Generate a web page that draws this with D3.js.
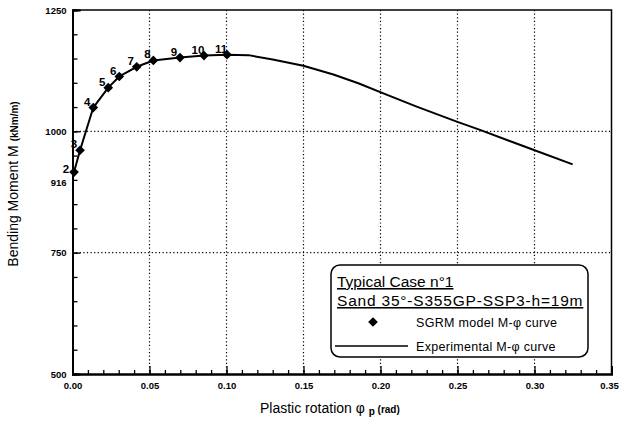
<!DOCTYPE html>
<html>
<head>
<meta charset="utf-8">
<script src="https://cdn.jsdelivr.net/npm/d3@7"></script>
<style>
	body { margin: 0; background: #fff; }
	svg { display: block; font-family: "Liberation Sans", Arial, sans-serif; }
</style>
</head>
<body>
<svg id="chart" width="619" height="425"></svg>
<script>
// SGRM model points (numbered 2..11)
const pointIds = [2, 3, 4, 5, 6, 7, 8, 9, 10, 11]
const pointRot = [0.001, 0.0049, 0.0135, 0.0232, 0.0304, 0.0417, 0.0525, 0.0698, 0.0854, 0.1003]
const pointMom = [916, 961, 1049, 1090, 1113, 1133, 1146, 1152, 1156, 1158]

// experimental curve
const expRot = [0.001, 0.0049, 0.0135, 0.0232, 0.0304, 0.0417, 0.0525, 0.0698, 0.0854, 0.1003, 0.1142, 0.13, 0.1499, 0.1694, 0.1856, 0.2035, 0.2235, 0.2495, 0.2646, 0.2992, 0.3248]
const expMom = [916, 961, 1049, 1090, 1113, 1133, 1146, 1152, 1156, 1158, 1157, 1148, 1135, 1117, 1099, 1076, 1051, 1020, 1003, 962, 932]

const xTicks = [0, 0.05, 0.10, 0.15, 0.20, 0.25, 0.30, 0.35]
const yTicks = [500, 750, 1000, 1250]
const yExtraLabel = 916
const xGrid = [0.05, 0.10, 0.15, 0.20, 0.25, 0.30]
const yGrid = [750, 1000]

const svg = d3.select('#chart')
const pLeft = 72.5, pRight = 611.5, pTop = 10, pBottom = 374

const x = d3.scaleLinear().domain([0, 0.35]).range([pLeft, pRight])
const y = d3.scaleLinear().domain([500, 1250]).range([pBottom, pTop])

// dotted grid
const grid = svg.append('g')
	.attr('stroke', '#000')
	.attr('stroke-width', 1.2)
	.attr('stroke-dasharray', '1.2,2.4')
grid.selectAll('.gx').data(xGrid).enter().append('line')
	.attr('x1', x).attr('x2', x)
	.attr('y1', pTop).attr('y2', pBottom)
grid.selectAll('.gy').data(yGrid).enter().append('line')
	.attr('y1', y).attr('y2', y)
	.attr('x1', pLeft).attr('x2', pRight)

// frame (top / right)
svg.append('path')
	.attr('d', `M${pLeft},${pTop}H${pRight}V${pBottom}`)
	.attr('fill', 'none')
	.attr('stroke', '#000')
	.attr('stroke-width', 1.5)

// x axis, ticks pointing in
const xMinor = d3.axisBottom(x).tickValues(d3.range(0, 0.351, 0.01)).tickSize(-4).tickFormat('')
svg.append('g').attr('transform', `translate(0,${pBottom})`).call(xMinor)
const xAxis = d3.axisBottom(x).tickValues(xTicks).tickSize(-8).tickPadding(8).tickFormat(d3.format('.2f'))
const gx = svg.append('g').attr('transform', `translate(0,${pBottom})`).call(xAxis)

// y axis, ticks pointing in
const yMinor = d3.axisLeft(y).tickValues(d3.range(500, 1251, 50)).tickSize(-5).tickFormat('')
svg.append('g').attr('transform', `translate(${pLeft},0)`).call(yMinor)
const yAxis = d3.axisLeft(y).tickValues(yTicks).tickSize(-8).tickPadding(6).tickFormat(d3.format('d'))
const gy = svg.append('g').attr('transform', `translate(${pLeft},0)`).call(yAxis)

svg.selectAll('.domain').attr('stroke', '#000').attr('stroke-width', 2)
svg.selectAll('.tick line').attr('stroke', '#000').attr('stroke-width', 1.3)
svg.selectAll('.tick text')
	.attr('font-family', '"Liberation Sans", Arial, sans-serif')
	.attr('font-size', 9.5)
	.attr('font-weight', 'bold')
	.attr('fill', '#000')
// keep the last x label inside the picture
gx.selectAll('.tick text').filter((d) => d === 0.35).attr('dx', -2.5)

gy.append('text')
	.attr('x', -6)
	.attr('y', y(yExtraLabel) + 11)
	.attr('dy', '0.32em')
	.attr('text-anchor', 'end')
	.attr('font-size', 9.5)
	.attr('font-weight', 'bold')
	.attr('fill', '#000')
	.text(yExtraLabel)

// experimental curve
const expData = expRot.map((r, i) => [r, expMom[i]])
const line = d3.line().x((d) => x(d[0])).y((d) => y(d[1]))
svg.append('path')
	.datum(expData)
	.attr('d', line)
	.attr('fill', 'none')
	.attr('stroke', '#000')
	.attr('stroke-width', 2)
	.attr('stroke-linejoin', 'round')

// SGRM diamonds + labels
const points = pointIds.map((id, i) => ({ id: id, r: pointRot[i], m: pointMom[i] }))
const diamond = d3.symbol().type(d3.symbolDiamond2).size(60)
svg.selectAll('.pt').data(points).enter().append('path')
	.attr('class', 'pt')
	.attr('d', diamond)
	.attr('transform', (d) => `translate(${x(d.r)},${y(d.m)})`)
	.attr('fill', '#000')

svg.selectAll('.pt-label').data(points).enter().append('text')
	.attr('class', 'pt-label')
	.attr('x', (d) => x(d.r) + (d.id === 2 ? -8 : -6))
	.attr('y', (d) => y(d.m) + (d.id === 2 ? -3 : -6))
	.attr('dy', '0.35em')
	.attr('text-anchor', 'middle')
	.attr('font-size', 11.5)
	.attr('font-weight', 'bold')
	.text((d) => d.id)

// axis titles
const xt = svg.append('text')
	.attr('x', 260)
	.attr('y', 413)
	.attr('font-size', 14)
xt.append('tspan').text('Plastic rotation φ ')
xt.append('tspan').attr('font-size', 10).attr('font-weight', 'bold').attr('dy', 2).text('p')
xt.append('tspan').attr('font-size', 10).attr('font-weight', 'bold').attr('dy', -2).text(' (rad)')

const yt = svg.append('text')
	.attr('transform', 'translate(18,184) rotate(-90)')
	.attr('text-anchor', 'middle')
	.attr('font-size', 14)
yt.append('tspan').text('Bending Moment  M ')
yt.append('tspan').attr('font-size', 10).attr('font-weight', 'bold').text('(kNm/m)')

// legend
const lg = svg.append('g').attr('transform', 'translate(331,265)')
lg.append('rect')
	.attr('width', 257).attr('height', 92).attr('rx', 9)
	.attr('fill', '#fff').attr('stroke', '#000').attr('stroke-width', 1.5)
lg.append('text').attr('x', 6).attr('y', 22).attr('font-size', 15.5)
	.attr('text-decoration', 'underline').text('Typical Case n°1')
lg.append('text').attr('x', 6).attr('y', 41).attr('font-size', 15.5)
	.attr('letter-spacing', 0.8)
	.attr('text-decoration', 'underline').text('Sand 35°-S355GP-SSP3-h=19m')
lg.append('path').attr('d', diamond).attr('transform', 'translate(42,57)').attr('fill', '#000')
lg.append('text').attr('x', 85).attr('y', 62).attr('font-size', 12.5)
	.attr('letter-spacing', 0.3).text('SGRM model M-φ curve')
lg.append('line').attr('x1', 4).attr('x2', 77).attr('y1', 81).attr('y2', 81)
	.attr('stroke', '#000').attr('stroke-width', 1.5)
lg.append('text').attr('x', 85).attr('y', 86).attr('font-size', 12.5)
	.attr('letter-spacing', 0.3).text('Experimental M-φ curve')
</script>
</body>
</html>
